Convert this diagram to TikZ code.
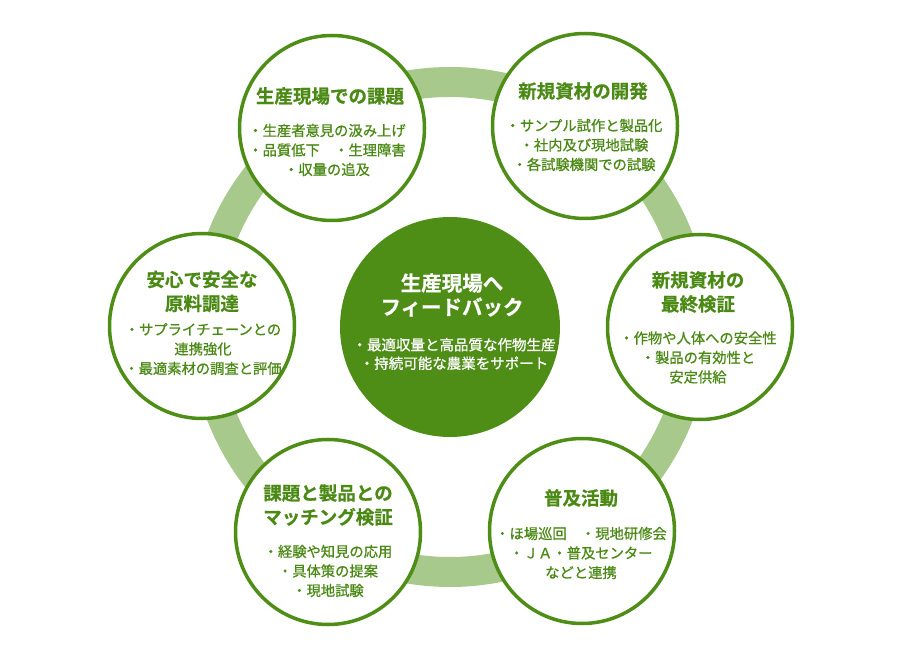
\documentclass[tikz,border=0pt]{standalone}
\usepackage{fontspec}
\newfontfamily\jp{Noto Sans CJK JP}
\newfontfamily\jpm[FakeBold=0.8]{Noto Sans CJK JP}
\newfontfamily\jpb[FakeBold=0.6]{Noto Sans CJK JP Bold}
\definecolor{ringgreen}{HTML}{A8C98C}
\definecolor{dgreen}{HTML}{4E8E17}
\definecolor{tgreen}{HTML}{4A8A14}
\begin{document}
\begin{tikzpicture}[x=1pt,y=-1pt,
  petal/.style={circle, draw=dgreen, line width=3.5pt, fill=white, minimum size=185pt, inner sep=0pt},
  hub/.style={circle, fill=dgreen, minimum size=220pt, inner sep=0pt},
  ttl/.style={font=\jpb\fontsize{18.5}{24}\selectfont, text=tgreen, align=center, inner sep=0pt},
  bdy/.style={font=\jpm\fontsize{14.3}{19.5}\selectfont, text=tgreen, align=center, inner sep=0pt},
  cttl/.style={font=\jpb\fontsize{20.5}{24}\selectfont, text=white, align=center, inner sep=0pt},
  cbdy/.style={font=\jpm\fontsize{14.5}{18.5}\selectfont, text=white, align=center, inner sep=0pt}
]
\useasboundingbox (0,0) rectangle (900,660);
\coordinate (o) at (450,327);
\draw[ringgreen, line width=30pt] (o) circle [radius=245];

\node[hub] (c) at (450,327) {};
\node[petal] (tl) at (332,128) {};
\node[petal] (tr) at (585,126) {};
\node[petal] (r) at (700,327) {};
\node[petal] (br) at (582,531) {};
\node[petal] (bl) at (328,532) {};
\node[petal] (l) at (202,326) {};

\node[ttl] (tlt) at (330,96) {生産現場での課題};
\node[bdy] (tlb) at (327,150) {・生産者意見の汲み上げ\\・品質低下　・生理障害\\・収量の追及};

\node[ttl] (trt) at (583,91) {新規資材の開発};
\node[bdy] (trb) at (584,145) {・サンプル試作と製品化\\・社内及び現地試験\\・各試験機関での試験};

\node[ttl] (rt) at (698,292) {新規資材の\\最終検証};
\node[bdy] (rb) at (698,357.5) {・作物や人体への安全性\\・製品の有効性と\\安定供給};

\node[ttl] (brt) at (581,498) {普及活動};
\node[bdy] (brb) at (581,553) {・ほ場巡回　・現地研修会\\・ＪＡ・普及センター\\などと連携};

\node[ttl] (blt) at (328,505) {課題と製品との\\マッチング検証};
\node[bdy] (blb) at (328,571) {・経験や知見の応用\\・具体策の提案\\・現地試験};

\node[ttl] (lt) at (202,291.5) {安心で安全な\\原料調達};
\node[bdy] (lb) at (203,349) {・サプライチェーンとの\\連携強化\\・最適素材の調査と評価};

\node[cttl] (ct) at (452,295) {生産現場へ\\フィードバック};
\node[cbdy] (cb) at (454,354) {・最適収量と高品質な作物生産\\・持続可能な農業をサポート};
\end{tikzpicture}
\end{document}
